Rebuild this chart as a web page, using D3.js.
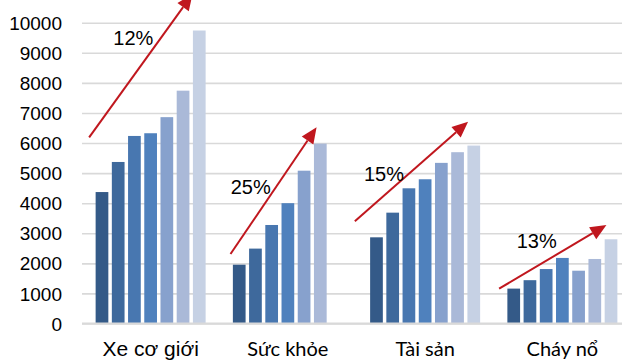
<!DOCTYPE html>
<html>
<head>
<meta charset="utf-8">
<script src="https://cdn.jsdelivr.net/npm/d3@7"></script>
<style>
  body { margin: 0; background: #fff; }
  svg { display: block; }
  .tick text { font-family: "Liberation Sans", Arial, sans-serif; font-size: 19px; fill: #000; }
</style>
</head>
<body>
<div id="chart"></div>
<script>
// categories and series (7 years per category, Sức khỏe has only 6)
var categories = ["Xe cơ giới", "Sức khỏe", "Tài sản", "Cháy nổ"];
var seriesNames = ["s1", "s2", "s3", "s4", "s5", "s6", "s7"];

var xeCoGioi = [4370, 5370, 6235, 6325, 6860, 7740, 9740];
var sucKhoe = [1955, 2490, 3275, 4000, 5080, 5980, null];
var taiSan = [2865, 3685, 4495, 4795, 5340, 5695, 5915];
var chayNo = [1160, 1440, 1810, 2180, 1755, 2145, 2800];

var growthLabels = ["12%", "25%", "15%", "13%"];
var yTicks = [0, 1000, 2000, 3000, 4000, 5000, 6000, 7000, 8000, 9000, 10000];

// arrows: [category position, value] for start and tip
var arrows = [
  { from: [0.052, 6190], to: [0.805, 10950] },
  { from: [1.082, 2310], to: [1.709, 6523] },
  { from: [1.988, 3398], to: [2.813, 6709] },
  { from: [3.039, 1157], to: [3.821, 3275] }
];
var labelPos = [[0.374, 9255], [1.229, 4305], [2.2, 4721], [3.313, 2510]];

var colors = ["#345a88", "#3e699c", "#4877b0", "#4f81bd", "#87a1cd", "#aab9d8", "#c6d1e4"];

var svgWidth = 622;
var svgHeight = 360;
var margin = { left: 82, right: 631, top: 22.7, bottom: 323.5 };

var svg = d3.select("#chart")
    .append("svg")
    .attr("width", svgWidth)
    .attr("height", svgHeight);

var data = categories.map(function(c, i) {
    return { cat: c, values: [xeCoGioi, sucKhoe, taiSan, chayNo][i] };
});

var x0 = d3.scaleBand().domain(categories).range([margin.left, margin.right]);
var step = x0.step();
var x1 = d3.scaleBand().domain(seriesNames)
    .range([(step - 110) / 2, (step + 110) / 2])
    .paddingInner(0.216);
var xPos = d3.scaleLinear().domain([0, 4]).range([margin.left, margin.right]);

var y = d3.scaleLinear().domain([0, 10000]).range([margin.bottom, margin.top]);

// gridlines + tick labels
var yAxis = d3.axisLeft(y)
    .tickValues(yTicks)
    .tickSize(-(svgWidth - margin.left))
    .tickPadding(20)
    .tickFormat(d3.format("d"));

var gy = svg.append("g")
    .attr("transform", `translate(${margin.left},0)`)
    .call(yAxis);
gy.select(".domain").remove();
gy.selectAll(".tick line").attr("stroke", "#d9d9d9").attr("stroke-width", 1.6);
gy.selectAll(".tick text").attr("dy", "0.35em");

// bars
var groups = svg.selectAll(".cat")
    .data(data)
    .enter()
    .append("g")
    .attr("class", "cat")
    .attr("transform", d => `translate(${x0(d.cat)},0)`);

groups.selectAll("rect")
    .data(d => d.values.map((v, i) => ({ v: v, s: seriesNames[i], i: i })).filter(e => e.v != null))
    .enter()
    .append("rect")
    .attr("x", e => x1(e.s))
    .attr("width", x1.bandwidth())
    .attr("y", e => y(e.v))
    .attr("height", e => y(0) - y(e.v))
    .attr("fill", e => colors[e.i]);

// baseline
svg.append("line")
    .attr("x1", margin.left).attr("x2", svgWidth)
    .attr("y1", y(0)).attr("y2", y(0))
    .attr("stroke", "#d9d9d9").attr("stroke-width", 2);

// category labels
svg.selectAll(".catLabel")
    .data(categories)
    .enter()
    .append("text")
    .attr("class", "catLabel")
    .attr("x", d => x0(d) + step / 2)
    .attr("y", 356)
    .attr("text-anchor", "middle")
    .style("font-family", (d, i) => i === 0 ? "'Liberation Sans', Arial, sans-serif" : "Lato, 'Open Sans', sans-serif")
    .style("font-size", (d, i) => i === 0 ? "21px" : "20px")
    .text(d => d);

// arrows
var red = "#c0171e";
arrows.forEach(function(a) {
    var ax = xPos(a.from[0]), ay = y(a.from[1]);
    var tx = xPos(a.to[0]), ty = y(a.to[1]);
    var ang = Math.atan2(ty - ay, tx - ax);
    var headLen = 16, headW = 7;
    var bx = tx - headLen * Math.cos(ang), by = ty - headLen * Math.sin(ang);
    svg.append("line")
        .attr("x1", ax).attr("y1", ay)
        .attr("x2", bx).attr("y2", by)
        .attr("stroke", red).attr("stroke-width", 2);
    var px = -Math.sin(ang), py = Math.cos(ang);
    svg.append("polygon")
        .attr("points", [
            [tx, ty],
            [bx + px * headW, by + py * headW],
            [bx - px * headW, by - py * headW]
        ].map(p => p.join(",")).join(" "))
        .attr("fill", red);
});

// growth labels
svg.selectAll(".growth")
    .data(growthLabels)
    .enter()
    .append("text")
    .attr("class", "growth")
    .attr("x", (d, i) => xPos(labelPos[i][0]))
    .attr("y", (d, i) => y(labelPos[i][1]))
    .attr("text-anchor", "middle")
    .style("font-family", "'Liberation Sans', Arial, sans-serif")
    .style("font-size", "20px")
    .text(d => d);
</script>
</body>
</html>
